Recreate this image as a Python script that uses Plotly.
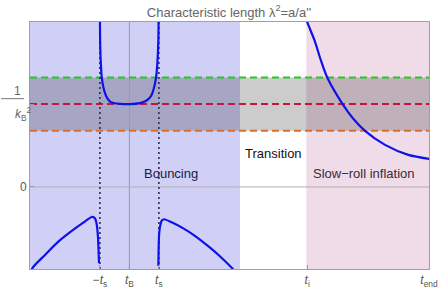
import plotly.graph_objects as go

# ---- data (t_B = 0, t_s = 1) ----
tick_vals = [-1.0, 0.0, 1.0, 6.03, 10.16]
tick_text = ["\u2212<i>t</i><sub>s</sub>", "<i>t</i><sub>B</sub>", "<i>t</i><sub>s</sub>",
             "<i>t</i><sub>i</sub>", "<i>t</i><sub>end</sub>"]

bounce_x = [-1.005, -0.993, -0.975, -0.936, -0.88, -0.824, -0.74, -0.654, -0.50, -0.315, 0.024,
            0.363, 0.52, 0.644, 0.74, 0.814, 0.905, 0.95, 0.983, 0.993]
bounce_y = [2.3, 1.78, 1.55, 1.32, 1.20, 1.13, 1.065, 1.03, 1.01, 1.003, 1.0,
            1.012, 1.03, 1.06, 1.10, 1.17, 1.32, 1.50, 1.78, 2.3]

left_x = [-3.37, -3.28, -2.86, -2.41, -1.84, -1.50, -1.275, -1.19, -1.14, -1.10, -1.07, -1.05, -1.03]
left_y = [-1.08, -0.976, -0.82, -0.66, -0.50, -0.415, -0.363, -0.37, -0.40, -0.47, -0.58, -0.72, -0.92]

right_x = [0.983, 0.99, 1.007, 1.03, 1.064, 1.10, 1.176, 1.45, 1.83, 2.22, 2.62, 3.05, 3.47, 3.55]
right_y = [-0.955, -0.78, -0.58, -0.50, -0.44, -0.405, -0.39, -0.43, -0.50, -0.59, -0.70, -0.83, -0.976, -1.01]

slow_x = [5.98, 6.03, 6.29, 6.50, 6.71, 7.23, 7.60, 7.99, 8.67, 9.46, 10.17]
slow_y = [2.05, 1.99, 1.757, 1.52, 1.32, 1.0, 0.82, 0.677, 0.508, 0.387, 0.339]

level_names = ["upper", "kB", "lower"]
level_values = [1.32, 1.0, 0.677]
level_colors = ["#22c922", "#c8143c", "#d8702a"]

x_range = [-3.37, 10.16]
y_range = [-0.99, 1.99]
bounce_end = 3.75
inflation_start = 6.0

FONT = "Liberation Sans, Arial, sans-serif"

fig = go.Figure()

# dashed levels
for name, v, c in zip(level_names, level_values, level_colors):
    fig.add_trace(go.Scatter(x=x_range, y=[v, v], mode="lines", name=name,
                             line=dict(color=c, width=2, dash="7px,4px"),
                             hoverinfo="skip", showlegend=False))

# dotted verticals at -t_s, t_s
for xv in [tick_vals[0], tick_vals[2]]:
    fig.add_trace(go.Scatter(x=[xv, xv], y=y_range, mode="lines",
                             line=dict(color="#2c2c5a", width=1.6, dash="2px,3px"),
                             hoverinfo="skip", showlegend=False))

curve_line = dict(color="#1010e8", width=2.2, shape="spline", smoothing=0.8)
for xs, ys in [(bounce_x, bounce_y), (left_x, left_y), (right_x, right_y), (slow_x, slow_y)]:
    fig.add_trace(go.Scatter(x=xs, y=ys, mode="lines", line=curve_line,
                             hoverinfo="skip", showlegend=False, cliponaxis=True))

PW = 399.0  # plot width in px
shapes = [
    dict(type="rect", xref="x", yref="paper", x0=x_range[0], x1=bounce_end, y0=0, y1=1,
         fillcolor="rgb(208,208,246)", line_width=0, layer="below"),
    dict(type="rect", xref="x", yref="paper", x0=inflation_start, x1=x_range[1], y0=0, y1=1,
         fillcolor="rgb(240,220,232)", line_width=0, layer="below"),
    dict(type="rect", xref="paper", yref="y", x0=0, x1=1, y0=level_values[2], y1=level_values[0],
         fillcolor="rgba(0,0,0,0.2)", line_width=0, layer="below"),
    dict(type="line", xref="x", yref="paper", x0=0, x1=0, y0=0, y1=1,
         line=dict(color="#9a9a9a", width=1), layer="below"),
    dict(type="line", xref="paper", yref="y", x0=0, x1=1, y0=0, y1=0,
         line=dict(color="#b0b0b0", width=1), layer="below"),
    # fraction bar of the 1/k_B^2 label
    dict(type="line", xref="paper", yref="y", x0=(1 - 30) / PW, x1=(24 - 30) / PW,
         y0=1.065, y1=1.065, line=dict(color="#777777", width=1)),
]

label_font = dict(family=FONT, size=13)
annotations = [
    dict(x=1.42, y=0.157, xref="x", yref="y", text="Bouncing", showarrow=False,
         font=dict(label_font, color="#1a1a4a")),
    dict(x=4.87, y=0.40, xref="x", yref="y", text="Transition", showarrow=False,
         font=dict(label_font, color="#111111")),
    dict(x=7.95, y=0.157, xref="x", yref="y", text="Slow\u2212roll inflation", showarrow=False,
         font=dict(label_font, color="#3a2a3a")),
    dict(x=(12 - 30) / PW, y=1.155, xref="paper", yref="y", text="1", showarrow=False,
         font=dict(family=FONT, size=12, color="#666666")),
    dict(x=(13 - 30) / PW, y=0.875, xref="paper", yref="y",
         text="<i>k</i><sub>B</sub><sup>2</sup>", showarrow=False,
         font=dict(family=FONT, size=12, color="#666666")),
]

fig.update_layout(
    width=442, height=292,
    margin=dict(l=30, r=13, t=22, b=23, autoexpand=False),
    paper_bgcolor="white", plot_bgcolor="white",
    title=dict(text="Characteristic length \u03bb<sup>2</sup>=a/a''", x=229 / 442, xanchor="center",
               y=1 - 12 / 292, yanchor="middle", yref="container",
               font=dict(family=FONT, size=13, color="#666666")),
    shapes=shapes, annotations=annotations,
    xaxis=dict(range=x_range, tickvals=tick_vals, ticktext=tick_text, ticks="inside",
               ticklen=4, tickcolor="#999999", showgrid=False, zeroline=False,
               showline=True, linecolor="#a0a0a0", mirror=True, automargin=False,
               tickfont=dict(family=FONT, size=12, color="#555555")),
    yaxis=dict(range=y_range, tickvals=[0, 1], ticktext=["0", ""], ticks="inside",
               ticklen=4, tickcolor="#999999", showgrid=False, zeroline=False,
               showline=True, linecolor="#a0a0a0", mirror=True, automargin=False,
               tickfont=dict(family=FONT, size=12, color="#555555")),
)

fig.write_html("out.html", config={"displayModeBar": False},
               post_script="document.body.style.margin='0';document.body.style.overflow='hidden';")
